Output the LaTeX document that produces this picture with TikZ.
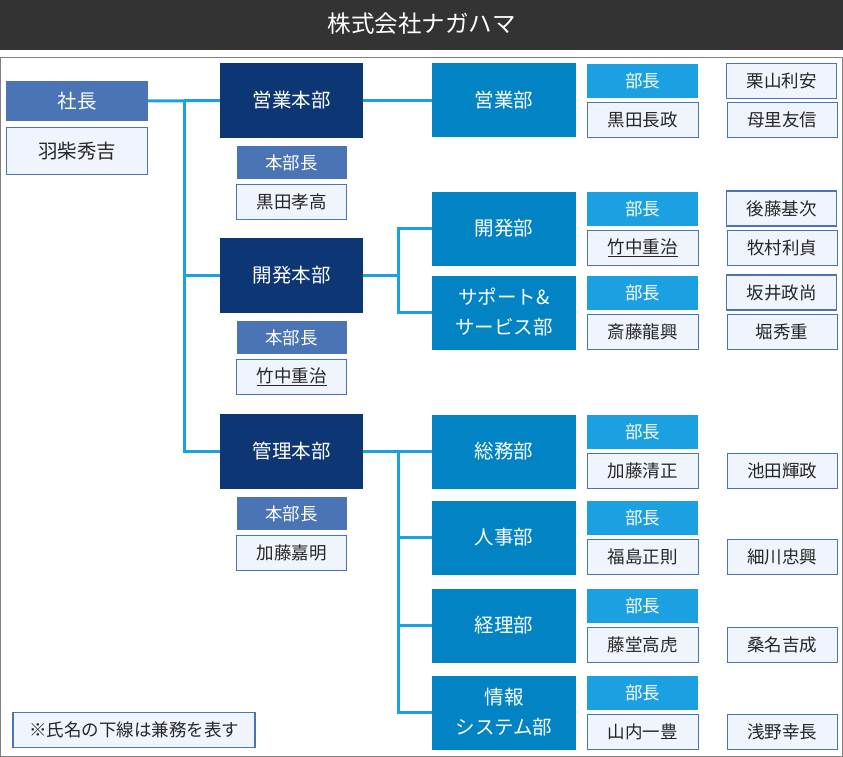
\documentclass[tikz,border=0pt]{standalone}
\usepackage{fontspec}
\setmainfont{Noto Sans CJK JP}
\usetikzlibrary{positioning,calc}
\definecolor{titlebg}{RGB}{51,51,51}
\definecolor{hqblue}{RGB}{13,54,116}
\definecolor{deptblue}{RGB}{2,131,195}
\definecolor{headblue}{RGB}{27,161,226}
\definecolor{rankblue}{RGB}{74,116,180}
\definecolor{namebg}{RGB}{239,244,253}
\definecolor{framegray}{RGB}{128,128,128}
\tikzset{line/.style={draw=headblue, line width=3pt}}

\begin{document}
\begin{tikzpicture}[x=1pt,y=1pt]
\tikzstyle{block} = [rectangle, fill=hqblue, text=white, minimum width=143pt, minimum height=75pt, inner sep=0pt, align=center, font=\fontsize{19.5}{30}\selectfont]
\tikzstyle{dept} = [block, fill=deptblue, minimum width=144pt, minimum height=74pt]
\tikzstyle{rank} = [rectangle, fill=rankblue, text=white, minimum width=110pt, minimum height=33pt, inner sep=0pt, font=\fontsize{17.5}{20}\selectfont]
\tikzstyle{head} = [rank, fill=headblue, minimum width=111pt, minimum height=34pt]
\tikzstyle{person} = [rectangle, draw=rankblue, line width=1.2pt, fill=namebg, text=black!85, minimum width=110pt, minimum height=35pt, inner sep=0pt, font=\fontsize{17.5}{20}\selectfont]
\useasboundingbox (0,0) rectangle (843,-757);

% title
    \fill[titlebg] (0,0) rectangle (843,-50);
    \node[text=white, font=\fontsize{23.5}{26}\selectfont] (title) at (421.5,-24) {株式会社ナガハマ};
    \draw[framegray, line width=1.2pt] (0.6,-57.5) rectangle (842.4,-756.4);
% blocks
    % president
    \node[rank, minimum width=142pt, minimum height=40pt, font=\fontsize{19.5}{22}\selectfont] (president) at (77,-101) {社長};
    \node[person, minimum width=141pt, minimum height=47pt, below=6pt of president, font=\fontsize{19.5}{22}\selectfont] (president name) {羽柴秀吉};
    % headquarters
    \node[block] (sales hq) at (291.5,-100.5) {営業本部};
    \node[rank, below=8pt of sales hq] (sales hq rank) {本部長};
    \node[person, below=4pt of sales hq rank] (sales hq name) {黒田孝高};
    \node[block] (dev hq) at (291.5,-275.5) {開発本部};
    \node[rank, below=8pt of dev hq] (dev hq rank) {本部長};
    \node[person, below=4pt of dev hq rank] (dev hq name) {\underline{竹中重治}};
    \node[block] (admin hq) at (291.5,-451.5) {管理本部};
    \node[rank, below=8pt of admin hq] (admin hq rank) {本部長};
    \node[person, below=4pt of admin hq rank] (admin hq name) {加藤嘉明};
    % sales
    \node[dept] (sales) at (504,-100.5) {営業部};
    \node[head, anchor=north west] (sales head) at ([xshift=11pt, yshift=-0.5pt]sales.north east) {部長};
    \node[person, minimum width=111pt, below=4pt of sales head] (sales name) {黒田長政};
    \node[person, minimum width=110pt, right=27.5pt of sales head] (sales staff a) {栗山利安};
    \node[person, minimum width=110pt, right=27.5pt of sales name] (sales staff b) {母里友信};
    % development
    \node[dept] (dev) at (504,-228.5) {開発部};
    \node[head, anchor=north west] (dev head) at ([xshift=11pt]dev.north east) {部長};
    \node[person, minimum width=111pt, below=4pt of dev head] (dev name) {\underline{竹中重治}};
    \node[person, minimum width=110pt, right=27.5pt of dev head] (dev staff a) {後藤基次};
    \node[person, minimum width=110pt, right=27.5pt of dev name] (dev staff b) {牧村利貞};
    % support
    \node[dept] (support) at (504,-312.5) {サポート\&\\サービス部};
    \node[head, anchor=north west] (support head) at ([xshift=11pt]support.north east) {部長};
    \node[person, minimum width=111pt, below=4pt of support head] (support name) {斎藤龍興};
    \node[person, minimum width=110pt, right=27.5pt of support head] (support staff a) {坂井政尚};
    \node[person, minimum width=110pt, right=27.5pt of support name] (support staff b) {堀秀重};
    % general affairs
    \node[dept] (general) at (504,-451.5) {総務部};
    \node[head, anchor=north west] (general head) at ([xshift=11pt]general.north east) {部長};
    \node[person, minimum width=111pt, below=4pt of general head] (general name) {加藤清正};
    \node[person, minimum width=110pt, right=27.5pt of general name] (general staff) {池田輝政};
    % personnel
    \node[dept] (hr) at (504,-537.5) {人事部};
    \node[head, anchor=north west] (hr head) at ([xshift=11pt]hr.north east) {部長};
    \node[person, minimum width=111pt, below=4pt of hr head] (hr name) {福島正則};
    \node[person, minimum width=110pt, right=27.5pt of hr name] (hr staff) {細川忠興};
    % accounting
    \node[dept] (acct) at (504,-625.5) {経理部};
    \node[head, anchor=north west] (acct head) at ([xshift=11pt]acct.north east) {部長};
    \node[person, minimum width=111pt, below=4pt of acct head] (acct name) {藤堂高虎};
    \node[person, minimum width=110pt, right=27.5pt of acct name] (acct staff) {桑名吉成};
    % information systems
    \node[dept] (it) at (504,-712.5) {情報\\システム部};
    \node[head, anchor=north west] (it head) at ([xshift=11pt]it.north east) {部長};
    \node[person, minimum width=111pt, below=4pt of it head] (it name) {山内一豊};
    \node[person, minimum width=110pt, right=27.5pt of it name] (it staff) {浅野幸長};
    % note
    \node[person, minimum width=242pt] (note) at (134,-730) {※氏名の下線は兼務を表す};
% lines
    \coordinate (trunk) at (184,-101);
    \coordinate (dev split) at (398,-275.5);
    \coordinate (admin split) at (398,-451.5);
    \path [line] (president.east) -- (sales hq.west);
    \path [line] (trunk) |- (admin hq.west);
    \path [line] (trunk |- dev hq.west) -- (dev hq.west);
    \path [line] (sales hq.east) -- (sales.west);
    \path [line] (dev hq.east) -- (dev split);
    \path [line] (dev.west) -| (dev split) |- (support.west);
    \path [line] (admin hq.east) -- (general.west);
    \path [line] (admin split) |- (it.west);
    \path [line] (admin split |- hr.west) -- (hr.west);
    \path [line] (admin split |- acct.west) -- (acct.west);
\end{tikzpicture}
\end{document}
